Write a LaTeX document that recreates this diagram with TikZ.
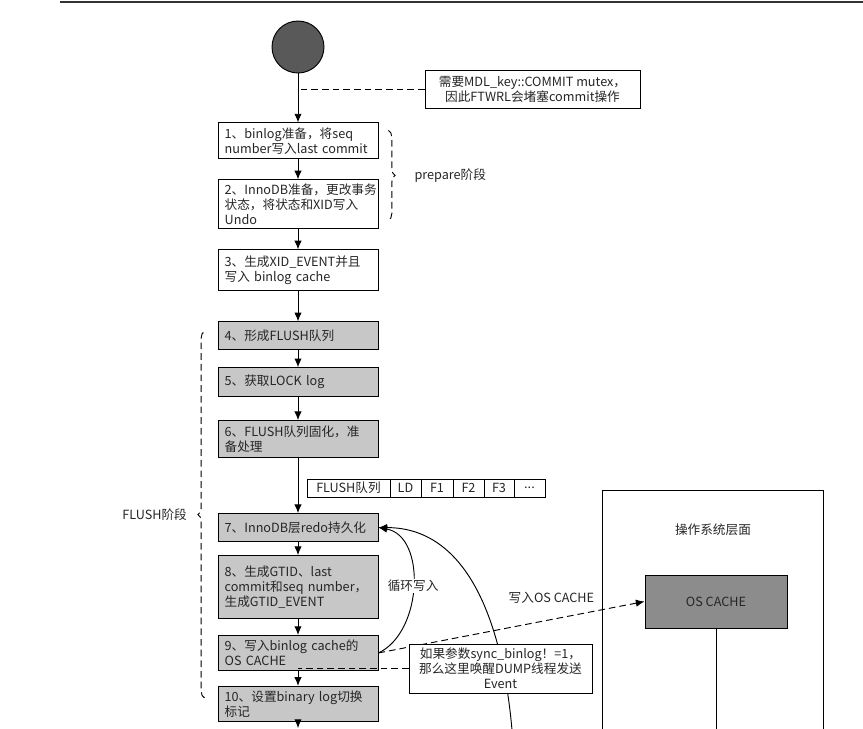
\documentclass[tikz,border=0pt]{standalone}
\usepackage{fontspec}
\setmainfont{Noto Sans CJK SC}
\usetikzlibrary{positioning,arrows.meta,decorations.pathreplacing}

\definecolor{startgray}{gray}{0.35}
\definecolor{flushgray}{gray}{0.78}
\definecolor{cachegray}{gray}{0.55}
\newcommand{\boxfont}{\fontsize{10.8}{12.8}\selectfont}

\tikzset{
  stepbox/.style={draw, text width=4.4cm, inner xsep=0.2cm, inner ysep=2pt, align=left},
  flushbox/.style={stepbox, fill=flushgray},
  notebox/.style={draw, fill=white, align=center, inner sep=2pt},
  qcell/.style={draw, minimum height=0.54cm, inner sep=0pt, outer sep=0pt},
  dashline/.style={dash pattern=on 2mm off 1.2mm}
}

\begin{document}
\begin{tikzpicture}[node distance=0.6cm, >={Latex[length=2.6mm,width=2.2mm]}, line width=0.8pt, font=\boxfont, text=black!85]
    \useasboundingbox (0,0) rectangle (25.89,-21.84);
    \clip (0,0) rectangle (25.89,-21.84);
    \draw[line width=1.5pt, black!80] (1.8,-0.05) -- (25.89,-0.05);

    \node[draw, circle, fill=startgray, minimum size=1.56cm] (start) at (8.94,-1.41) {};
    \node[stepbox, minimum height=1.08cm, below=1.47cm of start] (b1) {1、binlog准备，将seq\\number写入last commit};
    \node[stepbox, minimum height=1.47cm, below=0.6cm of b1] (b2) {2、InnoDB准备，更改事务\\状态，将状态和XID写入\\Undo};
    \node[stepbox, minimum height=1.23cm, below=0.6cm of b2] (b3) {3、生成XID\_EVENT并且\\写入 binlog cache};
    \node[flushbox, minimum height=0.84cm, below=0.9cm of b3] (b4) {4、形成FLUSH队列};
    \node[flushbox, minimum height=0.87cm, below=0.51cm of b4] (b5) {5、获取LOCK log};
    \node[flushbox, minimum height=1.11cm, below=0.69cm of b5] (b6) {6、FLUSH队列固化，准\\备处理};
    \node[flushbox, minimum height=0.84cm, below=1.65cm of b6] (b7) {7、InnoDB层redo持久化};
    \node[flushbox, minimum height=1.89cm, below=0.39cm of b7] (b8) {8、生成GTID、last\\commit和seq number，\\生成GTID\_EVENT};
    \node[flushbox, minimum height=1.05cm, below=0.48cm of b8] (b9) {9、写入binlog cache的\\OS CACHE};
    \node[flushbox, minimum height=1.05cm, below=0.45cm of b9] (b10) {10、设置binary log切换\\标记};
    \coordinate (mainend) at (8.94,-21.84);

    \node[notebox, minimum width=6.45cm, minimum height=1.14cm] (mdl) at (15.975,-2.67) {需要MDL\_key::COMMIT mutex，\\因此FTWRL会堵塞commit操作};

    % FLUSH queue
    \node[qcell, minimum width=2.49cm, anchor=north west] (q0) at ([xshift=0.27cm,yshift=-0.63cm]b6.south) {FLUSH队列};
    \node[qcell, minimum width=0.93cm, right=0pt of q0] (q1) {LD};
    \node[qcell, minimum width=0.96cm, right=0pt of q1] (q2) {F1};
    \node[qcell, minimum width=0.93cm, right=0pt of q2] (q3) {F2};
    \node[qcell, minimum width=0.9cm, right=0pt of q3] (q4) {F3};
    \node[qcell, minimum width=0.93cm, right=0pt of q4] (q5) {...};

    % OS side
    \node[draw, minimum width=6.63cm, minimum height=8cm, anchor=north west] (osbox) at (18.06,-14.7) {};
    \node (ostitle) at ([yshift=-1.2cm]osbox.north) {操作系统层面};
    \node[draw, fill=cachegray, minimum width=4.26cm, minimum height=1.59cm] (oscache) at (21.48,-18.045) {OS CACHE};
    \coordinate (osend) at (21.48,-21.9);
    \draw (oscache.south) -- (osend);

    \draw[->] (start) -- (b1);
    \draw[->] (b1) -- (b2);
    \draw[->] (b2) -- (b3);
    \draw[->] (b3) -- (b4);
    \draw[->] (b4) -- (b5);
    \draw[->] (b5) -- (b6);
    \draw[->] (b6) -- (b7);
    \draw[->] (b7) -- (b8);
    \draw[->] (b8) -- (b9);
    \draw[->] (b9) -- (b10);
    \draw[->] (b10) -- (mainend);
    \draw[dashline] (mdl.west) -- (mdl.west -| start);

    \coordinate (dumpend) at (15.36,-21.9);
    \draw[->] (dumpend) to[out=95, in=0] (b7.east);
    \draw[->] (b9.east) to[out=25, in=-10] node[fill=white, inner sep=1pt] (loop) {循环写入} (b7.east);
    \draw[->, dashline] (b9.east) -- (oscache.west) node[pos=0.65, above=0.35cm] (oslabel) {写入OS CACHE};

    \node[notebox, minimum width=5.49cm, minimum height=1.47cm] (dump) at (15.015,-20.055) {如果参数sync\_binlog！=1，\\那么这里唤醒DUMP线程发送\\Event};
    \draw[dashline] (dump.west) -- (dump.west -| b10.north);

    % stage braces
    \draw[dashline, decorate, decoration={brace, amplitude=0.2cm}] ([xshift=0.3cm,yshift=-0.24cm]b1.north east) -- ([xshift=0.3cm,yshift=0.27cm]b2.south east) node[midway, anchor=west, xshift=0.65cm] (prep) {prepare阶段};
    \draw[dashline, decorate, decoration={brace, amplitude=0.2cm}] ([xshift=-0.39cm,yshift=-0.36cm]b10.north west) -- ([xshift=-0.39cm,yshift=-0.3cm]b4.north west) node[midway, anchor=east, xshift=-0.4cm] (flushlbl) {FLUSH阶段};
\end{tikzpicture}
\end{document}
